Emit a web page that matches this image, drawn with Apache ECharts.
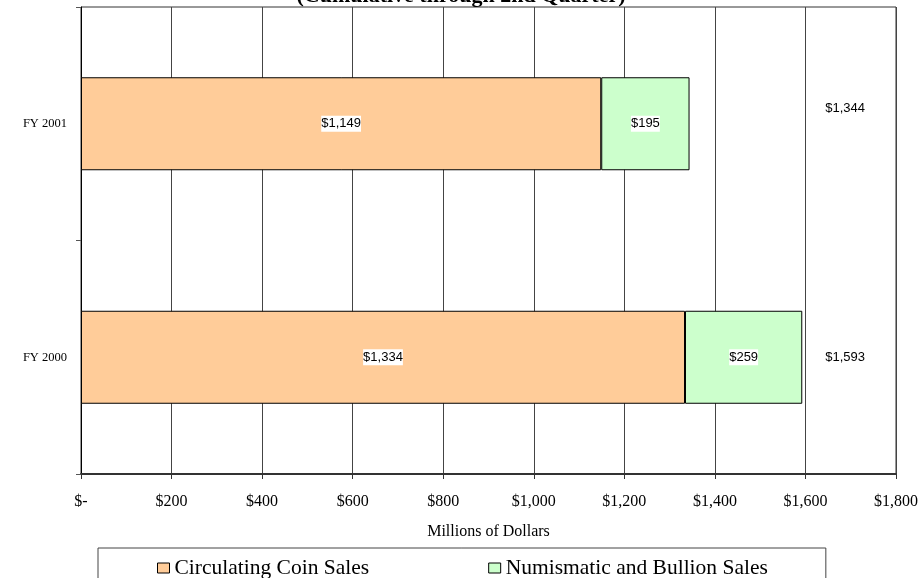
<!DOCTYPE html>
<html>
<head>
<meta charset="utf-8">
<script src="https://cdn.jsdelivr.net/npm/echarts@6/dist/echarts.min.js"></script>
<style>
  html, body { margin: 0; padding: 0; background: #fff; }
  #main { width: 922px; height: 578px; }
</style>
</head>
<body>
<div id="main"></div>
<script>
// 数据
const categories = ['FY 2000', 'FY 2001']
const circulatingSales = [1334, 1149]
const numismaticSales = [259, 195]
const xTickLabels = ['$-', '$200', '$400', '$600', '$800', '$1,000', '$1,200', '$1,400', '$1,600', '$1,800']

const money = v => '$' + Number(v).toLocaleString('en-US')
const totals = categories.map((c, i) => circulatingSales[i] + numismaticSales[i])

const serif = '"Liberation Serif", "Times New Roman", serif'
const sans = '"Liberation Sans", Arial, sans-serif'

var myChart = echarts.init(document.getElementById('main'))

const barLabel = {
    show: true,
    position: 'inside',
    color: '#000',
    fontFamily: sans,
    fontSize: 13,
    backgroundColor: '#fff',
    padding: [2, 0, 1, 0],
    formatter: p => money(p.value)
}

let option = {
    backgroundColor: '#fff',
    animation: false,
    title: {
        text: '(Cumulative through 2nd Quarter)',
        left: 'center',
        top: -15,
        padding: 0,
        textStyle: {
            fontFamily: serif,
            fontWeight: 'bold',
            fontSize: 22,
            color: '#000'
        }
    },
    grid: {
        left: 81,
        right: 26,
        top: 7,
        bottom: 104,
        show: true,
        borderColor: '#333',
        borderWidth: 1
    },
    legend: {
        left: 98,
        top: 548,
        padding: [9, 58, 40, 59],
        itemGap: 119,
        itemWidth: 12,
        itemHeight: 10,
        borderColor: '#444',
        borderWidth: 1,
        icon: 'rect',
        itemStyle: {
            borderColor: '#000',
            borderWidth: 1
        },
        textStyle: {
            fontFamily: serif,
            fontSize: 21.5,
            color: '#000'
        }
    },
    xAxis: {
        type: 'value',
        min: 0,
        max: 1800,
        interval: 200,
        name: 'Millions of Dollars',
        nameLocation: 'middle',
        nameGap: 50,
        nameTextStyle: {
            fontFamily: serif,
            fontSize: 16,
            color: '#000'
        },
        axisLine: {
            show: true,
            lineStyle: { color: '#333', width: 2 }
        },
        axisTick: {
            show: true,
            length: 5,
            lineStyle: { color: '#333' }
        },
        axisLabel: {
            margin: 20,
            fontFamily: serif,
            fontSize: 16,
            color: '#000',
            formatter: v => xTickLabels[Math.round(v / 200)]
        },
        splitLine: {
            show: true,
            lineStyle: { color: '#444', width: 1 }
        }
    },
    yAxis: [{
        type: 'category',
        data: categories,
        axisLine: {
            show: true,
            lineStyle: { color: '#000', width: 1 }
        },
        axisTick: {
            show: true,
            length: 5,
            lineStyle: { color: '#555' }
        },
        axisLabel: {
            margin: 14,
            fontFamily: serif,
            fontSize: 12.5,
            color: '#000'
        }
    }, {
        // 合计标签放在右侧
        type: 'category',
        position: 'right',
        data: totals.map(money),
        axisLine: { show: false },
        axisTick: { show: false },
        splitLine: { show: false },
        axisLabel: {
            inside: true,
            margin: 31,
            fontFamily: sans,
            fontSize: 13,
            color: '#000',
            formatter: (v, i) => i === 1 ? '{up|' + v + '}' : v,
            rich: {
                up: {
                    fontFamily: sans,
                    fontSize: 13,
                    color: '#000',
                    padding: [0, 0, 30, 0]
                }
            }
        }
    }],
    series: [{
        name: 'Circulating Coin Sales',
        type: 'bar',
        stack: 'sales',
        barWidth: 93,
        data: circulatingSales,
        itemStyle: {
            color: '#FFCC99',
            borderColor: '#000',
            borderWidth: 1
        },
        label: barLabel
    }, {
        name: 'Numismatic and Bullion Sales',
        type: 'bar',
        stack: 'sales',
        barWidth: 93,
        data: numismaticSales,
        itemStyle: {
            color: '#CCFFCC',
            borderColor: '#000',
            borderWidth: 1
        },
        label: barLabel
    }]
}

myChart.setOption(option)
</script>
</body>
</html>
